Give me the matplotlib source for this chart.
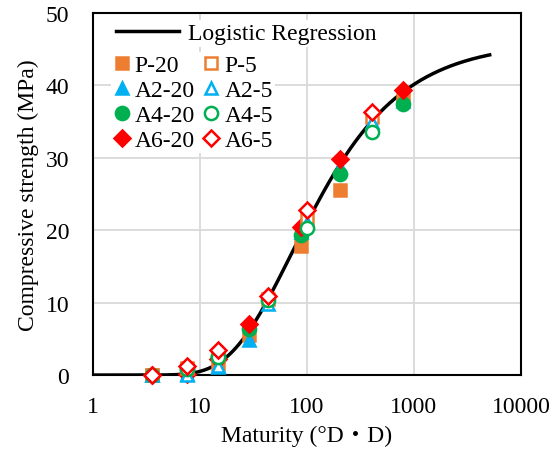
import numpy as np
import matplotlib
matplotlib.use("Agg")
import matplotlib.pyplot as plt
from matplotlib.lines import Line2D

plt.rcParams['font.family'] = ['Liberation Serif', 'Noto Sans CJK JP']
plt.rcParams['font.size'] = 17

# maturity values (deg D . D)
m_20 = [3.6, 7.5, 14.7, 28.7, 88, 205, 790]
m_5 = [3.6, 7.5, 14.7, 43, 101, 405]

# compressive strength (MPa)
p_20 = [0.0, 0.8, 1.5, 5.6, 17.8, 25.5, 38.5]
a2_20 = [0.0, 0.2, 1.1, 4.9, 19.8, 28.8, 37.8]
a4_20 = [0.0, 0.8, 2.6, 6.3, 19.3, 27.7, 37.5]
a6_20 = [0.0, 0.2, 2.2, 7.0, 20.4, 29.8, 39.3]
p_5 = [0.0, 1.0, 2.8, 10.5, 21.5, 35.7]
a2_5 = [0.0, 0.0, 1.2, 9.8, 21.0, 35.0]
a4_5 = [0.0, 0.8, 2.5, 10.3, 20.3, 33.5]
a6_5 = [0.0, 1.2, 3.4, 10.9, 22.8, 36.3]

# fitted regression parameters
s_max = 46.0
k_fit = 1.75
c_fit = 1.861
m_min, m_max = 1, 5100

orange = '#ED7D31'
blue = '#00B0F0'
green = '#00B050'
red = '#FF0000'

fig = plt.figure(figsize=(5.56, 4.52), dpi=100)
ax = fig.add_axes([0.167, 0.168, 0.77, 0.801])

m = np.logspace(np.log10(m_min), np.log10(m_max), 400)
s = s_max * np.exp(-np.exp(-k_fit * (np.log10(m) - c_fit)))
line, = ax.plot(m, s, color='black', lw=2.5, zorder=2)

series = [
    (m_20, p_20, 'P-20', 's', orange, True, 9),
    (m_20, a2_20, 'A2-20', '^', blue, True, 9),
    (m_20, a4_20, 'A4-20', 'o', green, True, 9.5),
    (m_20, a6_20, 'A6-20', 'D', red, True, 8),
    (m_5, p_5, 'P-5', 's', orange, False, 9),
    (m_5, a2_5, 'A2-5', '^', blue, False, 9),
    (m_5, a4_5, 'A4-5', 'o', green, False, 9.5),
    (m_5, a6_5, 'A6-5', 'D', red, False, 8),
]
handles = []
for x, y, lab, mk, col, filled, ms in series:
    fc = col if filled else 'white'
    ax.plot(x, y, ls='none', marker=mk, ms=ms, mfc=fc, mec=col,
            mew=1.8, clip_on=False, zorder=3)
    handles.append(Line2D([], [], ls='none', marker=mk, ms=ms, mfc=fc,
                          mec=col, mew=1.8, label=lab))

ax.set_xscale('log')
ax.set_xlim(1, 10000)
ax.set_ylim(0, 50)
ax.set_xticks([1, 10, 100, 1000, 10000])
ax.set_xticklabels(['1', '10', '100', '1000', '10000'])
ax.set_yticks(range(0, 51, 10))
ax.minorticks_off()
ax.tick_params(axis='x', length=0, pad=15, labelsize=17)
ax.tick_params(axis='y', length=0, pad=17, labelsize=17)
ax.grid(True, color='#d9d9d9', lw=1.3)
ax.set_axisbelow(True)
for sp in ax.spines.values():
    sp.set_linewidth(1.5)
    sp.set_color('black')

ax.set_xlabel('Maturity (°D・D)', fontsize=17, labelpad=6)
ax.set_ylabel('Compressive strength (MPa)', fontsize=17, labelpad=5)

leg1 = ax.legend([line], ['Logistic Regression'], loc='upper left',
                 bbox_to_anchor=(0.02, 1.012), frameon=True, edgecolor='none',
                 facecolor='white', framealpha=1, handlelength=2.7,
                 handletextpad=0.35, borderpad=0.1, fontsize=17)
ax.add_artist(leg1)
ax.legend(handles, [h.get_label() for h in handles],
          ncol=2, loc='upper left', bbox_to_anchor=(0.015, 0.925),
          frameon=True, edgecolor='none', facecolor='white', framealpha=1,
          handlelength=0.7, handletextpad=0.2, columnspacing=0.35,
          labelspacing=0.15, borderpad=0.1, fontsize=17)

fig.savefig('out.png', dpi=100)
